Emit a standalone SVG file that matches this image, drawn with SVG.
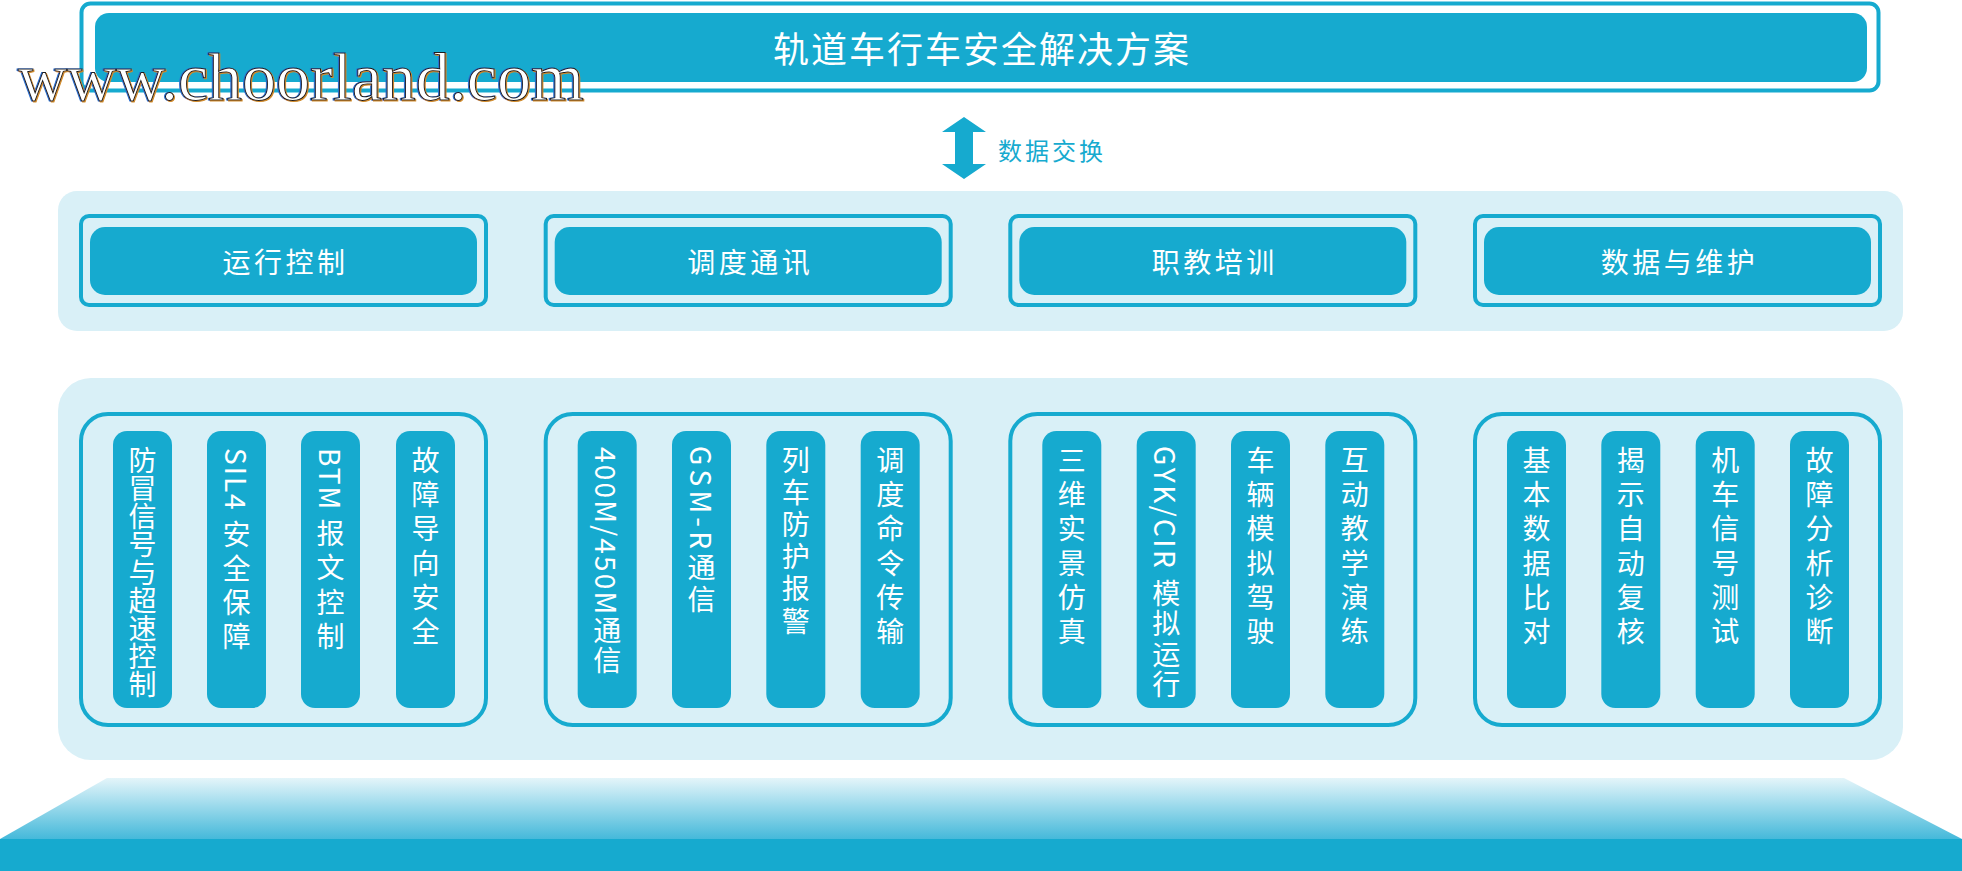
<svg xmlns="http://www.w3.org/2000/svg" width="1962" height="871" viewBox="0 0 1962 871">
<style>
.bg{fill:#ffffff}
.panel{fill:#d9f0f7}
.frame{fill:none;stroke:#16aacf;stroke-width:4}
.fill{fill:#16aacf}
.cjk{font-family:"Noto Sans CJK SC","Noto Sans",sans-serif}
.title{font-size:36px;fill:#fff;letter-spacing:2px}
.cat{font-size:28px;fill:#fff;letter-spacing:3.5px}
.vt{font-family:"Noto Sans CJK SC","Noto Sans",sans-serif;font-size:28px;fill:#fff;writing-mode:vertical-rl;letter-spacing:6.3px}
.lbl{font-size:24px;fill:#16aacf;letter-spacing:3px}
.wm{font-family:"Liberation Serif","Times New Roman",serif;font-size:68px;fill:#fff;stroke:#1a1a1a;stroke-width:1px}
</style>
<defs>
<linearGradient id="plat" x1="0" y1="0" x2="0" y2="1">
<stop offset="0" stop-color="#e4f5fa"/>
<stop offset="1" stop-color="#45b9da"/>
</linearGradient>
<filter id="wmfx" x="-5%" y="-20%" width="110%" height="140%">
<feFlood flood-color="#2a6fd0" result="b"/>
<feComposite in="b" in2="SourceAlpha" operator="in" result="bs"/>
<feOffset in="bs" dx="-1" dy="0" result="bo"/>
<feFlood flood-color="#d08a2a" result="o"/>
<feComposite in="o" in2="SourceAlpha" operator="in" result="os"/>
<feOffset in="os" dx="1" dy="0.5" result="oo"/>
<feMerge><feMergeNode in="bo"/><feMergeNode in="oo"/><feMergeNode in="SourceGraphic"/></feMerge>
</filter>
</defs>
<rect class="bg" x="0" y="0" width="1962" height="871"/>

<!-- top title -->
<g id="title">
<rect class="frame" x="81.5" y="3.5" width="1797" height="87" rx="9"/>
<rect class="fill" x="95" y="13" width="1772" height="69" rx="14"/>
<text class="cjk title" x="982" y="47" text-anchor="middle" dominant-baseline="central">轨道车行车安全解决方案</text>
</g>

<!-- connectors -->
<g id="connectors">
<path class="fill" d="M964 117 L986 132 L973 132 L973 164 L986 164 L964 179 L942 164 L955 164 L955 132 L942 132 Z"/>
<text class="cjk lbl" x="998" y="149" dominant-baseline="central">数据交换</text>
</g>

<!-- middle panel -->
<g id="category-panel">
<rect class="panel" x="58" y="191" width="1845" height="140" rx="19"/>
</g>
<g id="cat-1">
<rect class="frame" x="81" y="216" width="405" height="89" rx="8"/>
<rect class="fill" x="90" y="227" width="387" height="68" rx="15"/>
<text class="cjk cat" x="285.5" y="261" text-anchor="middle" dominant-baseline="central">运行控制</text>
</g>
<g id="cat-2">
<rect class="frame" x="545.7" y="216" width="405" height="89" rx="8"/>
<rect class="fill" x="554.7" y="227" width="387" height="68" rx="15"/>
<text class="cjk cat" x="750.2" y="261" text-anchor="middle" dominant-baseline="central">调度通讯</text>
</g>
<g id="cat-3">
<rect class="frame" x="1010.3" y="216" width="405" height="89" rx="8"/>
<rect class="fill" x="1019.3" y="227" width="387" height="68" rx="15"/>
<text class="cjk cat" x="1214.8" y="261" text-anchor="middle" dominant-baseline="central">职教培训</text>
</g>
<g id="cat-4">
<rect class="frame" x="1475" y="216" width="405" height="89" rx="8"/>
<rect class="fill" x="1484" y="227" width="387" height="68" rx="15"/>
<text class="cjk cat" x="1679.5" y="261" text-anchor="middle" dominant-baseline="central">数据与维护</text>
</g>

<!-- bottom panel -->
<g id="function-panel">
<rect class="panel" x="58" y="378" width="1845" height="382" rx="33"/>
</g>

<g id="group-1">
<rect class="frame" x="81" y="414" width="405" height="311" rx="27"/>
<rect class="fill" x="113" y="431" width="59" height="277" rx="14"/>
<rect class="fill" x="207" y="431" width="59" height="277" rx="14"/>
<rect class="fill" x="301" y="431" width="59" height="277" rx="14"/>
<rect class="fill" x="396" y="431" width="59" height="277" rx="14"/>
<text class="vt" x="142.5" y="446" style="letter-spacing:0">防冒信号与超速控制</text>
<text class="vt" x="236.5" y="448"><tspan style="letter-spacing:2px">SIL4 </tspan>安全保障</text>
<text class="vt" x="330.5" y="448"><tspan style="letter-spacing:2px">BTM </tspan>报文控制</text>
<text class="vt" x="425.5" y="446">故障导向安全</text>
</g>

<g id="group-2">
<rect class="frame" x="545.7" y="414" width="405" height="311" rx="27"/>
<rect class="fill" x="577.7" y="431" width="59" height="277" rx="14"/>
<rect class="fill" x="672" y="431" width="59" height="277" rx="14"/>
<rect class="fill" x="766.3" y="431" width="59" height="277" rx="14"/>
<rect class="fill" x="860.7" y="431" width="59" height="277" rx="14"/>
<text class="vt" x="607.2" y="447" style="letter-spacing:2.2px">400M/450M通信</text>
<text class="vt" x="701.5" y="446" style="letter-spacing:4.2px">GSM-R通信</text>
<text class="vt" x="795.8" y="446" style="letter-spacing:4.2px">列车防护报警</text>
<text class="vt" x="890.2" y="446">调度命令传输</text>
</g>

<g id="group-3">
<rect class="frame" x="1010.3" y="414" width="405" height="311" rx="27"/>
<rect class="fill" x="1042.3" y="431" width="59" height="277" rx="14"/>
<rect class="fill" x="1136.7" y="431" width="59" height="277" rx="14"/>
<rect class="fill" x="1231" y="431" width="59" height="277" rx="14"/>
<rect class="fill" x="1325.3" y="431" width="59" height="277" rx="14"/>
<text class="vt" x="1071.8" y="446">三维实景仿真</text>
<text class="vt" x="1166.2" y="446" style="letter-spacing:2.5px">GYK/CIR 模拟运行</text>
<text class="vt" x="1260.5" y="446">车辆模拟驾驶</text>
<text class="vt" x="1354.8" y="446">互动教学演练</text>
</g>

<g id="group-4">
<rect class="frame" x="1475" y="414" width="405" height="311" rx="27"/>
<rect class="fill" x="1507" y="431" width="59" height="277" rx="14"/>
<rect class="fill" x="1601.3" y="431" width="59" height="277" rx="14"/>
<rect class="fill" x="1695.7" y="431" width="59" height="277" rx="14"/>
<rect class="fill" x="1790" y="431" width="59" height="277" rx="14"/>
<text class="vt" x="1536.5" y="446">基本数据比对</text>
<text class="vt" x="1630.8" y="446">揭示自动复核</text>
<text class="vt" x="1725.2" y="446">机车信号测试</text>
<text class="vt" x="1819.5" y="446">故障分析诊断</text>
</g>

<!-- platform base -->
<g id="platform">
<path d="M107 778 L1844 778 L1962 839 L0 839 Z" fill="url(#plat)"/>
<rect class="fill" x="0" y="839" width="1962" height="32"/>
</g>

<!-- watermark -->
<g id="watermark">
<text class="wm" x="18" y="100" filter="url(#wmfx)">www.choorland.com</text>
</g>
</svg>
